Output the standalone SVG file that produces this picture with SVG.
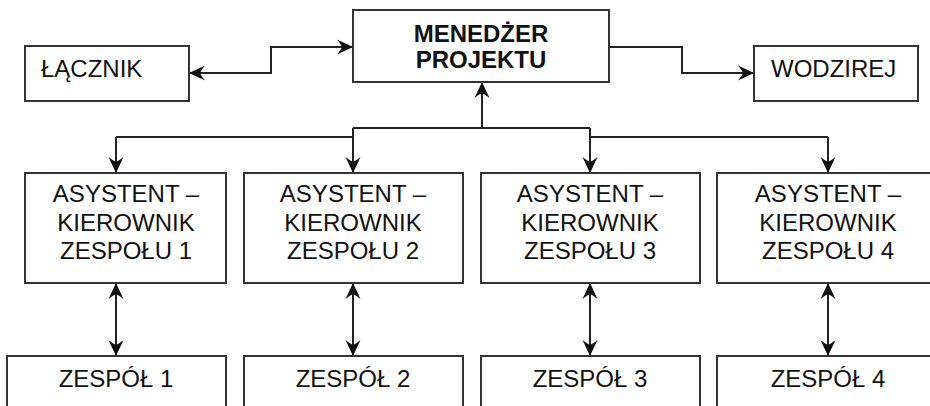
<svg xmlns="http://www.w3.org/2000/svg" width="930" height="406" viewBox="0 0 930 406">
<style>
.box{fill:#fff;stroke:#333;stroke-width:2}
.t{font-family:"Liberation Sans",Arial,sans-serif;font-size:24px;fill:#111}
.c{text-anchor:middle}
.b{font-weight:bold}
.ln{fill:none;stroke:#222;stroke-width:2}
</style>
<defs>
<marker id="ah" markerUnits="userSpaceOnUse" markerWidth="24" markerHeight="24" viewBox="-20 -12 22 24" refX="0" refY="0" orient="auto-start-reverse">
<path d="M0,0 L-16,-7.5 Q-12,-2.5 -11,0 Q-12,2.5 -16,7.5 Z" fill="#111"/>
</marker>
</defs>
<g id="connectors">
<path class="ln" d="M189,73 H271 V47 H353" marker-start="url(#ah)" marker-end="url(#ah)"/>
<path class="ln" d="M609,47 H682 V73 H754" marker-end="url(#ah)"/>
<path class="ln" d="M482,128 V82" marker-end="url(#ah)"/>
<path class="ln" d="M353,128 H590"/>
<path class="ln" d="M116,137 H353"/>
<path class="ln" d="M590,137 H828"/>
<path class="ln" d="M116,137 V173" marker-end="url(#ah)"/>
<path class="ln" d="M353,128 V173" marker-end="url(#ah)"/>
<path class="ln" d="M590,128 V173" marker-end="url(#ah)"/>
<path class="ln" d="M828,137 V173" marker-end="url(#ah)"/>
<path class="ln" d="M116,283 V356" marker-start="url(#ah)" marker-end="url(#ah)"/>
<path class="ln" d="M353,283 V356" marker-start="url(#ah)" marker-end="url(#ah)"/>
<path class="ln" d="M590,283 V356" marker-start="url(#ah)" marker-end="url(#ah)"/>
<path class="ln" d="M828,283 V356" marker-start="url(#ah)" marker-end="url(#ah)"/>
</g>
<g id="menedzer">
<rect class="box" x="353" y="10" width="256" height="72"/>
<text class="t c b" x="481" y="42">MENEDŻER</text>
<text class="t c b" x="481" y="68">PROJEKTU</text>
</g>
<g id="lacznik">
<rect class="box" x="25" y="46" width="164" height="55"/>
<text class="t" x="41" y="77">ŁĄCZNIK</text>
</g>
<g id="wodzirej">
<rect class="box" x="754" y="46" width="164" height="55"/>
<text class="t" x="771" y="77">WODZIREJ</text>
</g>
<g id="asystent1">
<rect class="box" x="25" y="173" width="201" height="110"/>
<text class="t c" x="126" y="202">ASYSTENT –</text>
<text class="t c" x="126" y="231">KIEROWNIK</text>
<text class="t c" x="126" y="259">ZESPOŁU 1</text>
</g>
<g id="asystent2">
<rect class="box" x="244" y="173" width="219" height="110"/>
<text class="t c" x="353" y="202">ASYSTENT –</text>
<text class="t c" x="353" y="231">KIEROWNIK</text>
<text class="t c" x="353" y="259">ZESPOŁU 2</text>
</g>
<g id="asystent3">
<rect class="box" x="481" y="173" width="219" height="110"/>
<text class="t c" x="590" y="202">ASYSTENT –</text>
<text class="t c" x="590" y="231">KIEROWNIK</text>
<text class="t c" x="590" y="259">ZESPOŁU 3</text>
</g>
<g id="asystent4">
<rect class="box" x="717" y="173" width="221" height="110"/>
<text class="t c" x="828" y="202">ASYSTENT –</text>
<text class="t c" x="828" y="231">KIEROWNIK</text>
<text class="t c" x="828" y="259">ZESPOŁU 4</text>
</g>
<g id="zespol1">
<rect class="box" x="7" y="356" width="219" height="60"/>
<text class="t c" x="116" y="387">ZESPÓŁ 1</text>
</g>
<g id="zespol2">
<rect class="box" x="244" y="356" width="219" height="60"/>
<text class="t c" x="353" y="387">ZESPÓŁ 2</text>
</g>
<g id="zespol3">
<rect class="box" x="481" y="356" width="219" height="60"/>
<text class="t c" x="590" y="387">ZESPÓŁ 3</text>
</g>
<g id="zespol4">
<rect class="box" x="717" y="356" width="221" height="60"/>
<text class="t c" x="828" y="387">ZESPÓŁ 4</text>
</g>
</svg>
